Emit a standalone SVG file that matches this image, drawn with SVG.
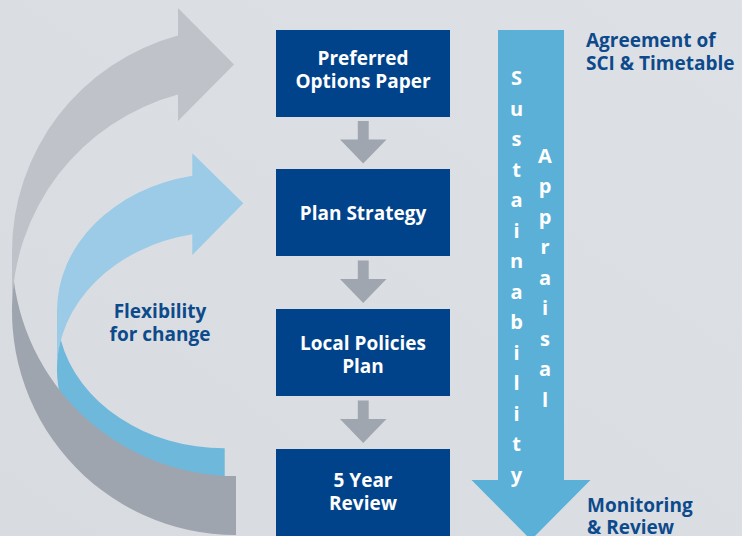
<svg xmlns="http://www.w3.org/2000/svg" width="742" height="536" viewBox="0 0 742 536">
<defs>
<linearGradient id="bg" x1="0" y1="1" x2="1" y2="0">
<stop offset="0" stop-color="#d8dce1"/>
<stop offset="1" stop-color="#dde1e6"/>
</linearGradient>
</defs>
<style>
.box{fill:#01438a}
.bt{font-family:"Open Sans","Liberation Sans",sans-serif;font-weight:700;font-size:19px;fill:#ffffff;text-anchor:middle}
.lbl{font-family:"Open Sans","Liberation Sans",sans-serif;font-weight:700;font-size:19px;fill:#0d4a8b}
.vt{font-family:"Open Sans","Liberation Sans",sans-serif;font-weight:700;font-size:20px;fill:#ffffff;text-anchor:middle}
.conn{fill:#a0a6af}
</style>
<rect width="742" height="536" fill="url(#bg)"/>

<g id="flex-arrow-blue">
<path fill="#9bcbe7" d="M57 310.7 A167.7 137.6 0 0 1 192.3 175.7 L192.3 153.3 L243.3 203.3 L192.3 255 L192.3 234.3 A167.7 137.6 0 0 0 57 369.3 Z"/>
<path fill="#6eb8dc" d="M224.7 506.9 A167.7 137.6 0 0 1 60.8 340 A167.7 137.6 0 0 0 224.7 448.3 Z"/>
</g>

<g id="review-arrow-grey">
<path fill="#bfc3c9" d="M12 252 A224 224 0 0 1 178 35.6 L178 8 L234 64.5 L178 121 L178 94.6 A224 224 0 0 0 12 311 Z"/>
<path fill="#9fa5ae" d="M236 535 A224 224 0 0 1 13.95 281.5 A224 224 0 0 0 236 476 Z"/>
</g>

<g id="flexibility-label">
<text class="lbl" text-anchor="middle" font-size="18.5" x="160" y="317.5">Flexibility</text>
<text class="lbl" text-anchor="middle" font-size="18.5" x="160" y="340.5">for change</text>
</g>

<g id="sustainability-appraisal">
<polygon fill="#5bb0d8" points="498,30 564,30 564,480 590.5,480 531,540 471.5,480 498,480"/>
<text class="vt">
<tspan x="516.5" y="85">S</tspan><tspan x="516.5" y="115.5">u</tspan><tspan x="516.5" y="146">s</tspan><tspan x="516.5" y="176.5">t</tspan><tspan x="516.5" y="207">a</tspan><tspan x="516.5" y="237.5">i</tspan><tspan x="516.5" y="268">n</tspan><tspan x="516.5" y="298.5">a</tspan><tspan x="516.5" y="329">b</tspan><tspan x="516.5" y="359.5">i</tspan><tspan x="516.5" y="390">l</tspan><tspan x="516.5" y="420.5">i</tspan><tspan x="516.5" y="451">t</tspan><tspan x="516.5" y="481.5">y</tspan>
</text>
<text class="vt">
<tspan x="545" y="162.5">A</tspan><tspan x="545" y="193">p</tspan><tspan x="545" y="223.5">p</tspan><tspan x="545" y="254">r</tspan><tspan x="545" y="284.5">a</tspan><tspan x="545" y="315">i</tspan><tspan x="545" y="345.5">s</tspan><tspan x="545" y="376">a</tspan><tspan x="545" y="406.5">l</tspan>
</text>
</g>

<g id="label-agreement">
<text class="lbl" x="586" y="46.5">Agreement of</text>
<text class="lbl" x="586" y="69.5">SCI &amp; Timetable</text>
</g>

<g id="label-monitoring">
<text class="lbl" x="587" y="511.5">Monitoring</text>
<text class="lbl" x="587" y="534">&amp; Review</text>
</g>

<g id="box-preferred-options">
<rect class="box" x="276" y="30" width="174" height="87"/>
<text class="bt" x="363" y="65">Preferred</text>
<text class="bt" x="363" y="88">Options Paper</text>
</g>

<g id="box-plan-strategy">
<rect class="box" x="276" y="169" width="174" height="87"/>
<text class="bt" x="363" y="219.5">Plan Strategy</text>
</g>

<g id="box-local-policies">
<rect class="box" x="276" y="309" width="174" height="87"/>
<text class="bt" x="363" y="350">Local Policies</text>
<text class="bt" x="363" y="373">Plan</text>
</g>

<g id="box-five-year-review">
<rect class="box" x="276" y="449" width="174" height="87"/>
<text class="bt" x="363" y="487">5 Year</text>
<text class="bt" x="363" y="510">Review</text>
</g>

<g id="connectors" class="conn">
<path d="M357.8 121 H368.7 V139.5 H386.5 L363.2 163.5 L340 139.5 H357.8 Z"/>
<path d="M357.8 260.5 H368.7 V279 H386.5 L363.2 303 L340 279 H357.8 Z"/>
<path d="M357.8 400.5 H368.7 V419 H386.5 L363.2 443 L340 419 H357.8 Z"/>
</g>
</svg>
